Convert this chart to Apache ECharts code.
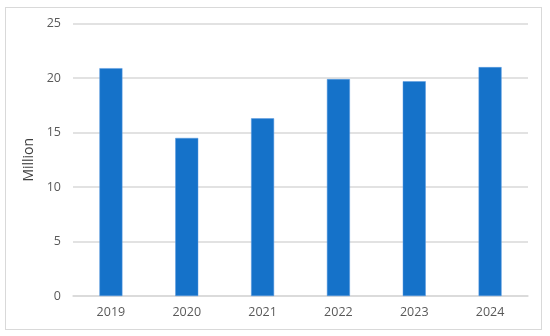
<!DOCTYPE html>
<html><head><meta charset="utf-8">
<script src="https://cdn.jsdelivr.net/npm/echarts@6/dist/echarts.min.js"></script>
<style>html,body{margin:0;padding:0;background:#fff}#c{width:550px;height:336px}
#frame{position:absolute;left:5px;top:7px;width:537px;height:323px;border:1px solid #d9d9d9;box-sizing:border-box;pointer-events:none}</style>
</head><body><div id="c"></div><div id="frame"></div>
<script>
const categories = ['2019', '2020', '2021', '2022', '2023', '2024'];
const values = [20.9, 14.5, 16.3, 19.9, 19.7, 21.0];
const yTicks = { min: 0, max: 25, interval: 5 };
const yName = 'Million';

const chart = echarts.init(document.getElementById('c'));
chart.setOption({
  animation: false,
  grid: { left: 73, right: 22, top: 23.5, bottom: 40 },
  xAxis: {
    type: 'category', data: categories,
    axisLine: { lineStyle: { color: '#d9d9d9', width: 1.5 } },
    axisTick: { show: false },
    axisLabel: { color: '#595959', fontSize: 12.5, fontFamily: 'Open Sans', margin: 10 }
  },
  yAxis: {
    type: 'value', min: yTicks.min, max: yTicks.max, interval: yTicks.interval,
    name: yName, nameLocation: 'middle', nameRotate: 90, nameGap: 32,
    nameTextStyle: { color: '#404040', fontSize: 14, fontFamily: 'Open Sans' },
    axisLabel: { color: '#595959', fontSize: 12.5, fontFamily: 'Open Sans', margin: 12 },
    splitLine: { lineStyle: { color: '#d9d9d9', width: 1.5 } },
    axisLine: { show: false }, axisTick: { show: false }
  },
  series: [{
    type: 'bar', data: values, barWidth: 23,
    itemStyle: { color: '#1572c9', borderColor: '#5a9be0', borderWidth: 0.5 }
  }]
});
</script></body></html>
